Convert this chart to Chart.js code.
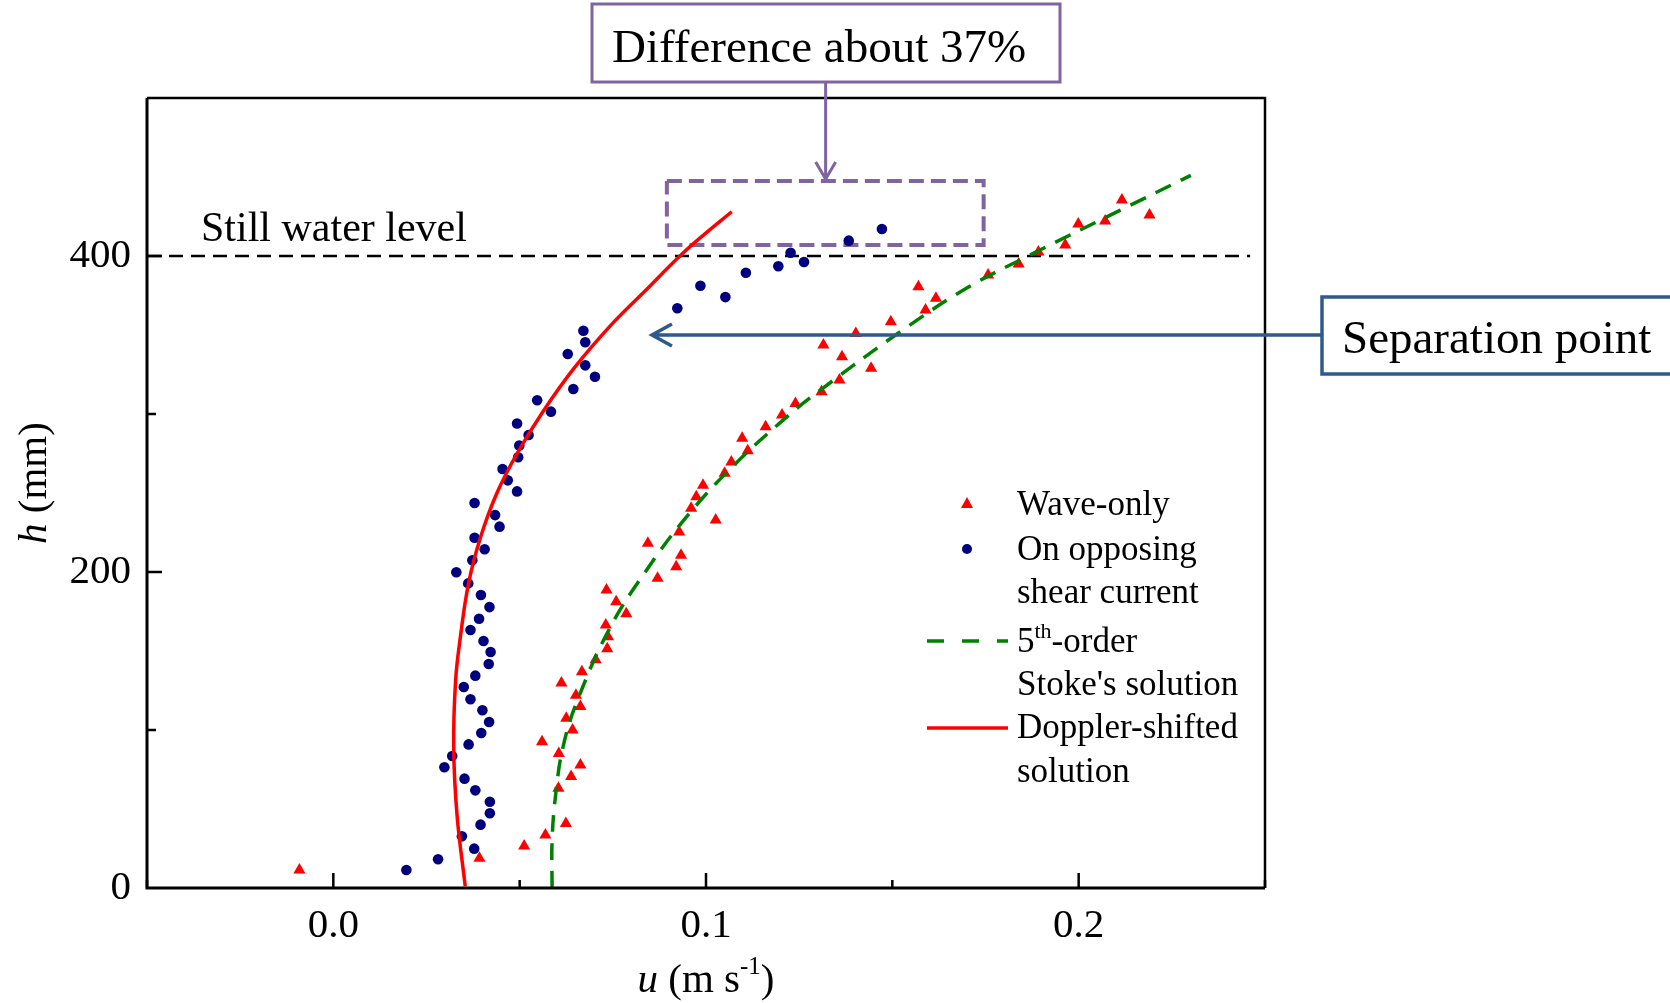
<!DOCTYPE html>
<html>
<head>
<meta charset="utf-8">
<script src="https://cdn.jsdelivr.net/npm/chart.js@4.4.1/dist/chart.umd.min.js"></script>
<style>
  html, body { margin: 0; padding: 0; background: #fff; }
  canvas { display: block; }
</style>
</head>
<body>
<canvas id="chart" width="1670" height="1003"></canvas>
<script>
// wave-only measurements (red triangles)
const waveU = [-0.0091, 0.0392, 0.0512, 0.0569, 0.0624, 0.0604, 0.0638, 0.0663, 0.0605, 0.0560,
  0.0642, 0.0625, 0.0663, 0.0651, 0.0612, 0.0667, 0.0704, 0.0735, 0.0737, 0.0731,
  0.0786, 0.0759, 0.0733, 0.0870, 0.0920, 0.0933, 0.0844, 0.0928, 0.1026, 0.0960,
  0.0974, 0.0992, 0.1050, 0.1068, 0.1112, 0.1097, 0.1160, 0.1204, 0.1240, 0.1310,
  0.1358, 0.1443, 0.1365, 0.1315, 0.1402, 0.1496, 0.1589, 0.1617, 0.1570, 0.1757,
  0.1839, 0.1892, 0.1964, 0.1999, 0.2071, 0.2116, 0.2190];
const waveH = [11.4, 18.8, 26.6, 33.5, 40.9, 63.1, 70.5, 77.8, 85.2, 92.6,
  100, 107.4, 114.8, 122, 129.7, 136.9, 144.5, 151.5, 159, 166.4,
  173.6, 181.2, 188.6, 196, 203.4, 210.6, 218.2, 225.3, 232.9, 240.3,
  247.7, 254.9, 262.5, 269.6, 276.8, 284.6, 292, 299.4, 306.7, 314.1,
  321.5, 328.9, 336.3, 343.7, 351, 358.4, 365.8, 373.2, 380.6, 388,
  394.9, 402.5, 407, 420.2, 422.1, 435.4, 426];

// waves on opposing shear current (blue dots)
const currentU = [0.0196, 0.0281, 0.0378, 0.0345, 0.0395, 0.0420, 0.0420, 0.0381, 0.0352, 0.0298,
  0.0319, 0.0363, 0.0397, 0.0418, 0.0400, 0.0368, 0.0350, 0.0381, 0.0417, 0.0422,
  0.0403, 0.0368, 0.0391, 0.0419, 0.0396, 0.0362, 0.0330, 0.0373, 0.0406, 0.0379,
  0.0446, 0.0434, 0.0379, 0.0493, 0.0468, 0.0454, 0.0496, 0.0499, 0.0524, 0.0493,
  0.0584, 0.0547, 0.0644, 0.0702, 0.0676, 0.0629, 0.0676, 0.0671, 0.0923, 0.1052,
  0.0985, 0.1107, 0.1194, 0.1263, 0.1227, 0.1383, 0.1472];
const currentH = [11.4, 18.2, 24.9, 32.7, 40.1, 47.3, 54.6, 61.8, 69.2, 76.4,
  83.5, 90.9, 98.1, 105.1, 112.5, 119.5, 127.2, 134.4, 141.8, 149.4,
  156.3, 163.3, 170.4, 177.8, 185.4, 192.8, 199.8, 207.4, 214.4, 221.7,
  228.7, 236, 243.7, 251, 258, 265.2, 272.6, 280, 286.7, 294,
  301.5, 308.7, 315.8, 323.6, 330.8, 338, 345.4, 352.7, 366.9, 374,
  381.2, 389.4, 393.5, 396.2, 402.1, 409.7, 417.1];

// 5th-order Stokes solution (green dashed)
const stokesU = [0.0587, 0.0587, 0.0597, 0.0617, 0.0657, 0.0743, 0.0837, 0.0941, 0.1064, 0.1206,
  0.1306, 0.1527, 0.1702, 0.1873, 0.2112, 0.2301];
const stokesH = [0, 30, 60, 90, 120, 165, 200, 233, 265, 296,
  315, 353, 380, 401, 429, 451];

// Doppler-shifted solution (red solid)
const dopplerU = [0.0354, 0.0332, 0.0323, 0.0328, 0.0341, 0.0363, 0.0395, 0.0439, 0.0493, 0.0561,
  0.0646, 0.0748, 0.0837, 0.0930, 0.0997, 0.1069];
const dopplerH = [1, 46, 89, 131, 159, 193, 222, 250, 275, 301,
  329, 357, 378, 400, 414, 428];

// still water level and the "difference" box, in data units
const stillU = [-0.05, 0.246];
const stillH = [400, 400];
const boxU = [0.0895, 0.1745, 0.1745, 0.0895, 0.0895];
const boxH = [447.5, 447.5, 407, 407, 447.5];

const xTicks = [0.0, 0.1, 0.2];
const yTicks = [0, 200, 400];

const serif = "'Liberation Serif', 'Times New Roman', serif";
const pts = (xs, ys) => xs.map((x, i) => ({ x: x, y: ys[i] }));

function drawRuns(ctx, runs, x, y, align) {
  let w = 0;
  runs.forEach(r => {
    ctx.font = (r.style || '') + ' ' + r.size + 'px ' + serif;
    r.w = ctx.measureText(r.t).width;
    w += r.w;
  });
  let cx = align === 'center' ? x - w / 2 : x;
  runs.forEach(r => {
    ctx.font = (r.style || '') + ' ' + r.size + 'px ' + serif;
    ctx.fillText(r.t, cx, y + (r.dy || 0));
    cx += r.w;
  });
}

const decorPlugin = {
  id: 'decor',
  afterDraw(chart) {
    const ctx = chart.ctx;
    const a = chart.chartArea;
    const xs = chart.scales.x, ys = chart.scales.y;
    ctx.save();

    // frame
    ctx.strokeStyle = '#000';
    ctx.lineWidth = 3;
    ctx.beginPath();
    ctx.moveTo(a.left, a.top); ctx.lineTo(a.left, a.bottom); ctx.lineTo(a.right, a.bottom);
    ctx.stroke();
    ctx.lineWidth = 2.5;
    ctx.beginPath();
    ctx.moveTo(a.left, a.top); ctx.lineTo(a.right, a.top); ctx.lineTo(a.right, a.bottom);
    ctx.stroke();

    // inward ticks
    ctx.lineWidth = 2.5;
    ctx.beginPath();
    for (let i = 0; i <= 6; i++) {
      const v = -0.05 + i * 0.05;
      const px = xs.getPixelForValue(v);
      const len = (i % 2 === 1) ? 15 : 8;
      ctx.moveTo(px, a.bottom); ctx.lineTo(px, a.bottom - len);
    }
    for (let v = 100; v < 500; v += 100) {
      const py = ys.getPixelForValue(v);
      const len = (v % 200 === 0) ? 15 : 9;
      ctx.moveTo(a.left, py); ctx.lineTo(a.left + len, py);
    }
    ctx.stroke();

    // axis titles
    ctx.fillStyle = '#000';
    ctx.textBaseline = 'alphabetic';
    ctx.textAlign = 'left';
    drawRuns(ctx, [
      { t: 'u', size: 41, style: 'italic' },
      { t: ' (m s', size: 41 },
      { t: '-1', size: 25, dy: -18 },
      { t: ')', size: 41 }
    ], (a.left + a.right) / 2, 992, 'center');

    ctx.save();
    ctx.translate(46, (a.top + a.bottom) / 2 - 10);
    ctx.rotate(-Math.PI / 2);
    drawRuns(ctx, [
      { t: 'h', size: 41, style: 'italic' },
      { t: ' (mm)', size: 41 }
    ], 0, 0, 'center');
    ctx.restore();

    // still water level label
    ctx.font = '42px ' + serif;
    ctx.fillText('Still water level', 201, 241);

    // legend
    const lx0 = 927, lx1 = 1008, tx = 1017;
    ctx.fillStyle = '#ff0000';
    ctx.beginPath();
    ctx.moveTo(967, 497); ctx.lineTo(973, 508); ctx.lineTo(961, 508); ctx.closePath();
    ctx.fill();
    ctx.fillStyle = '#00007f';
    ctx.beginPath();
    ctx.arc(967, 549, 5, 0, Math.PI * 2);
    ctx.fill();
    ctx.lineWidth = 3.5;
    ctx.strokeStyle = '#008000';
    ctx.setLineDash([17, 18]);
    ctx.beginPath(); ctx.moveTo(lx0, 641); ctx.lineTo(lx1, 641); ctx.stroke();
    ctx.setLineDash([]);
    ctx.strokeStyle = '#ff0000';
    ctx.beginPath(); ctx.moveTo(lx0, 728); ctx.lineTo(lx1, 728); ctx.stroke();

    ctx.fillStyle = '#000';
    ctx.font = '35px ' + serif;
    ctx.fillText('Wave-only', tx, 515);
    ctx.fillText('On opposing', tx, 560);
    ctx.fillText('shear current', tx, 603);
    drawRuns(ctx, [
      { t: '5', size: 35 },
      { t: 'th', size: 22, dy: -14 },
      { t: '-order', size: 35 }
    ], tx, 652, 'left');
    ctx.font = '35px ' + serif;
    ctx.fillText("Stoke's solution", tx, 695);
    ctx.fillText('Doppler-shifted', tx, 738);
    ctx.fillText('solution', tx, 782);

    // "Difference about 37%" box and arrow
    const purple = '#8064a2';
    ctx.fillStyle = '#fff';
    ctx.fillRect(592, 4, 468, 78);
    ctx.strokeStyle = purple;
    ctx.lineWidth = 3;
    ctx.strokeRect(592, 4, 468, 78);
    ctx.fillStyle = '#000';
    ctx.font = '47px ' + serif;
    ctx.fillText('Difference about 37%', 612, 62);
    const ax = xs.getPixelForValue(0.1321), ay = ys.getPixelForValue(447.5) - 2;
    ctx.beginPath();
    ctx.moveTo(ax, 82); ctx.lineTo(ax, ay);
    ctx.moveTo(ax - 10, ay - 17); ctx.lineTo(ax, ay); ctx.lineTo(ax + 10, ay - 17);
    ctx.stroke();

    // "Separation point" box and arrow
    const navy = '#2f5a8e';
    ctx.strokeStyle = navy;
    ctx.lineWidth = 3.5;
    const sx = xs.getPixelForValue(0.0855), sy = ys.getPixelForValue(350);
    ctx.beginPath();
    ctx.moveTo(1322, sy); ctx.lineTo(sx, sy);
    ctx.moveTo(sx + 20, sy - 11); ctx.lineTo(sx, sy); ctx.lineTo(sx + 20, sy + 11);
    ctx.stroke();
    ctx.fillStyle = '#fff';
    ctx.fillRect(1322, 297, 360, 77);
    ctx.strokeRect(1322, 297, 360, 77);
    ctx.fillStyle = '#000';
    ctx.font = '47px ' + serif;
    ctx.fillText('Separation point', 1342, 353);

    ctx.restore();
  }
};

new Chart(document.getElementById('chart').getContext('2d'), {
  type: 'scatter',
  data: {
    datasets: [
      {
        label: "5th-order Stoke's solution",
        data: pts(stokesU, stokesH),
        showLine: true, pointRadius: 0, tension: 0.4,
        borderColor: '#008000', borderWidth: 3.5, borderDash: [17, 11],
        order: 0
      },
      {
        label: 'Doppler-shifted solution',
        data: pts(dopplerU, dopplerH),
        showLine: true, pointRadius: 0, tension: 0.4,
        borderColor: '#ff0000', borderWidth: 3.5,
        order: 1
      },
      {
        label: 'Wave-only',
        data: pts(waveU, waveH),
        pointStyle: 'triangle', pointRadius: 7,
        backgroundColor: '#ff0000', borderColor: '#ff0000', borderWidth: 0,
        order: 2
      },
      {
        label: 'On opposing shear current',
        data: pts(currentU, currentH),
        pointStyle: 'circle', pointRadius: 5.3,
        backgroundColor: '#00007f', borderColor: '#00007f', borderWidth: 0,
        order: 3
      },
      {
        label: 'Still water level',
        data: pts(stillU, stillH),
        showLine: true, pointRadius: 0,
        borderColor: '#000', borderWidth: 2.5, borderDash: [14, 8],
        order: 4
      },
      {
        label: 'Difference region',
        data: pts(boxU, boxH),
        showLine: true, pointRadius: 0,
        borderColor: '#8064a2', borderWidth: 4, borderDash: [15, 7],
        order: 5
      }
    ]
  },
  options: {
    responsive: false,
    animation: false,
    events: [],
    layout: { padding: { left: 0, top: 98, right: 405, bottom: 0 } },
    plugins: { legend: { display: false }, tooltip: { enabled: false } },
    scales: {
      x: {
        type: 'linear', min: -0.05, max: 0.25,
        afterFit: s => { s.height = 115; },
        grid: { display: false }, border: { display: false },
        ticks: {
          stepSize: 0.05, padding: 6, color: '#000',
          font: { family: serif, size: 41 },
          callback: v => {
            const t = xTicks.find(k => Math.abs(k - v) < 1e-6);
            return t === undefined ? '' : t.toFixed(1);
          }
        }
      },
      y: {
        type: 'linear', min: 0, max: 500,
        afterFit: s => { s.width = 147; },
        grid: { display: false }, border: { display: false },
        ticks: {
          stepSize: 100, padding: 8, color: '#000',
          font: { family: serif, size: 41 },
          callback: v => yTicks.includes(v) ? String(v) : ''
        }
      }
    }
  },
  plugins: [decorPlugin]
});
</script>
</body>
</html>
